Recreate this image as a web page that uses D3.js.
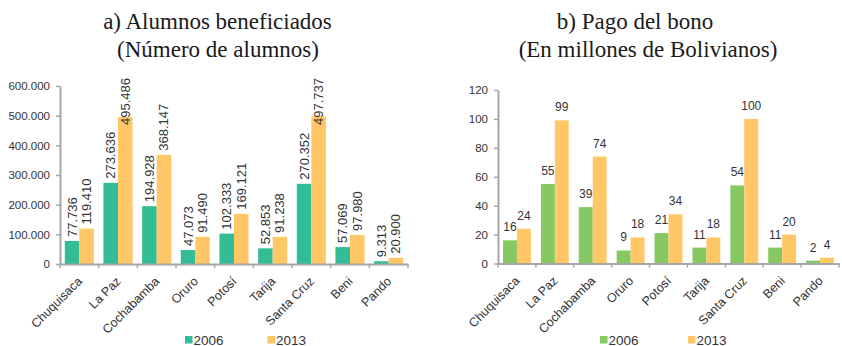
<!DOCTYPE html>
<html><head><meta charset="utf-8">
<script src="https://cdn.jsdelivr.net/npm/d3@7"></script>
<style>
html,body{margin:0;padding:0;background:#fff;}
svg{display:block;}
</style></head>
<body>
<svg id="chart" width="842" height="346"></svg>
<script>
const categories = ["Chuquisaca","La Paz","Cochabamba","Oruro","Potosí","Tarija","Santa Cruz","Beni","Pando"];
const seriesNames = ["2006","2013"];
const alumnos2006 = [77736, 273636, 194928, 47073, 102333, 52853, 270352, 57069, 9313];
const alumnos2013 = [119410, 495486, 368147, 91490, 169121, 91238, 497737, 97980, 20900];
const pago2006 = [16, 55, 39, 9, 21, 11, 54, 11, 2];
const pago2013 = [24, 99, 74, 18, 34, 18, 100, 20, 4];
const ticksA = [0, 100000, 200000, 300000, 400000, 500000, 600000];
const ticksB = [0, 20, 40, 60, 80, 100, 120];
const titleA = ["a) Alumnos beneficiados", "(Número de alumnos)"];
const titleB = ["b) Pago del bono", "(En millones de Bolivianos)"];

const svg = d3.select("#chart");
const fmtDot = v => v === 0 ? "0" : d3.format(",")(v).replace(/,/g, ".");
const AXIS = "#a6a6a6", TXT = "#333";
const SANS = "'Liberation Sans', Arial, sans-serif";

function drawChart(o) {
  const g = svg.append("g");
  const x = d3.scaleBand().domain(categories).range([o.x0, o.x1]);
  const y = d3.scaleLinear().domain([0, o.ticks[o.ticks.length-1]]).range([o.yBottom, o.yTop]);
  const inner = d3.scaleBand().domain(seriesNames).range([0, x.bandwidth()]).paddingOuter(o.outer).paddingInner(0);

  // titles
  o.title.forEach((t, i) => {
    g.append("text").attr("x", o.titleX[i]).attr("y", o.titleY[i])
      .attr("text-anchor", "middle").attr("font-family", "'Liberation Serif','Times New Roman',serif")
      .attr("font-size", 23).attr("fill", "#1a1a1a").text(t);
  });

  // y axis
  const ya = g.append("g").attr("transform", `translate(${o.x0},0)`)
    .call(d3.axisLeft(y).tickValues(o.ticks).tickFormat(o.fmt).tickSize(4).tickPadding(6).tickSizeOuter(0));
  ya.select(".domain").attr("stroke", AXIS).attr("stroke-width", 2);
  ya.selectAll(".tick line").attr("stroke", AXIS).attr("stroke-width", 1.5);
  ya.selectAll(".tick text").attr("font-family", SANS).attr("font-size", 11.5).attr("fill", TXT);

  // bars
  const series = [o.s1, o.s2];
  series.forEach((vals, si) => {
    g.append("g").selectAll("rect").data(vals).join("rect")
      .attr("x", (d, i) => x(categories[i]) + inner(seriesNames[si]))
      .attr("width", inner.bandwidth())
      .attr("y", d => y(d))
      .attr("height", d => y(0) - y(d))
      .attr("fill", o.colors[si]);
  });

  // x axis
  const xa = g.append("g").attr("transform", `translate(0,${o.yBottom})`)
    .call(d3.axisBottom(x).tickSize(0).tickFormat("").tickSizeOuter(0));
  xa.select(".domain").attr("stroke", AXIS).attr("stroke-width", 2);
  const bounds = categories.map(c => x(c)).concat([x.range()[1]]);
  g.append("g").selectAll("line").data(bounds).join("line")
    .attr("x1", d => d).attr("x2", d => d)
    .attr("y1", o.yBottom).attr("y2", o.yBottom + 4)
    .attr("stroke", AXIS).attr("stroke-width", 1.5);

  // x labels
  g.append("g").selectAll("text").data(categories).join("text")
    .attr("transform", d => `translate(${x(d) + x.bandwidth()/2 + 3.5},${o.yBottom + 18}) rotate(-45)`)
    .attr("text-anchor", "end").attr("font-family", SANS).attr("font-size", 12.5)
    .attr("fill", TXT).text(d => d);

  // data labels
  series.forEach((vals, si) => {
    const lab = g.append("g").selectAll("text").data(vals).join("text")
      .attr("font-family", SANS).attr("font-size", o.labelSize).attr("fill", TXT)
      .text(d => o.fmt(d));
    if (o.rotated) {
      lab.attr("text-anchor", "start").each(function(d, i) {
        const el = d3.select(this);
        const cx = x(categories[i]) + inner(seriesNames[si]) + inner.bandwidth()/2 + 4.5;
        const len = this.getComputedTextLength();
        let start = y(d) - 4;
        if (start - len < o.labelTop) start = o.labelTop + len;
        el.attr("transform", `translate(${cx},${start}) rotate(-90)`);
      });
    } else {
      lab.attr("text-anchor", "middle")
        .attr("x", (d, i) => x(categories[i]) + inner(seriesNames[si]) + inner.bandwidth()/2)
        .attr("y", d => y(d) - 9);
    }
  });

  // legend
  seriesNames.forEach((s, si) => {
    const lx = o.legendX[si];
    g.append("rect").attr("x", lx).attr("y", 336).attr("width", 7.5).attr("height", 7.5).attr("fill", o.colors[si]);
    g.append("text").attr("x", lx + 8.5).attr("y", 344.5).attr("font-family", SANS)
      .attr("font-size", 13.5).attr("fill", TXT).text(s);
  });
}

drawChart({
  x0: 60, x1: 408, yTop: 86, yBottom: 264, ticks: ticksA, fmt: fmtDot,
  s1: alumnos2006, s2: alumnos2013, colors: ["#33bd96", "#ffc766"],
  outer: 0.33, rotated: true, labelSize: 13, labelTop: 78,
  title: titleA, titleX: [217.5, 218], titleY: [29, 57], legendX: [185, 267.5]
});
drawChart({
  x0: 498, x1: 839, yTop: 90, yBottom: 263.5, ticks: ticksB, fmt: d => String(d),
  s1: pago2006, s2: pago2013, colors: ["#86c862", "#ffc766"],
  outer: 0.36, rotated: false, labelSize: 12,
  title: titleB, titleX: [635, 648], titleY: [29, 57], legendX: [600, 688]
});
</script>
</body></html>
